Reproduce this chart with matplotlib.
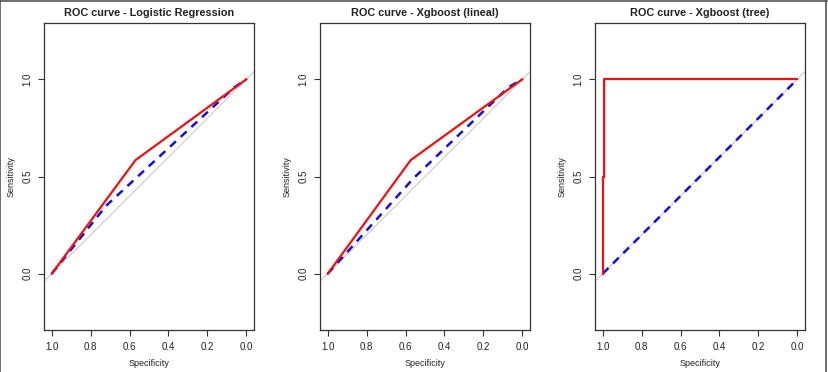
import matplotlib

matplotlib.use("Agg")
import matplotlib.pyplot as plt
from matplotlib.lines import Line2D

plt.rcParams["font.family"] = ["Liberation Sans", "DejaVu Sans"]

TITLES = [
    "ROC curve - Logistic Regression",
    "ROC curve - Xgboost (lineal)",
    "ROC curve - Xgboost (tree)",
]

# red solid curve (specificity, sensitivity)
red_spec = [
    [1.0, 0.57, 0.0],
    [1.0, 0.574, 0.0],
    [1.0, 1.0, 0.993, 0.993, 0.0],
]
red_sens = [
    [0.0, 0.584, 1.0],
    [0.0, 0.584, 1.0],
    [0.0, 0.5, 0.5, 1.0, 1.0],
]

# blue dashed curve
blue_spec = [
    [1.0, 0.72, 0.06, 0.0],
    [1.0, 0.56, 0.07, 0.0],
    [1.0, 0.0],
]
blue_sens = [
    [0.0, 0.35, 0.96, 1.0],
    [0.0, 0.49, 0.96, 1.0],
    [0.0, 1.0],
]

TICKS = [1.0, 0.8, 0.6, 0.4, 0.2, 0.0]
YTICKS = [0.0, 0.5, 1.0]

fig = plt.figure(figsize=(8.29, 3.72), dpi=100)
lefts = [44 / 829, 320 / 829, 595 / 829]
for i, left in enumerate(lefts):
    ax = fig.add_axes([left, 42 / 372, 210 / 829, 307 / 372])
    ax.set_xlim(1.04, -0.04)
    ax.set_ylim(-0.29, 1.29)
    ax.plot([1.5, -0.5], [-0.5, 1.5], color="#d0d0d0", lw=0.9, zorder=1)
    ax.plot(blue_spec[i], blue_sens[i], color="#1010e0", lw=1.8, ls=(0, (3.2, 2.6)), zorder=2)
    ax.plot(red_spec[i], red_sens[i], color="#ee1111", lw=1.6, zorder=3)
    ax.set_xticks(TICKS)
    ax.set_xticklabels([f"{t:.1f}" for t in TICKS])
    ax.set_yticks(YTICKS)
    ax.set_yticklabels([f"{t:.1f}" for t in YTICKS], rotation=90, va="center")
    ax.tick_params(length=4.5, width=0.8, color="#333333", labelsize=7, pad=4,
                   labelcolor="#222222")
    for side in ["top", "right", "bottom", "left"]:
        ax.spines[side].set_color("#333333")
        ax.spines[side].set_linewidth(0.9)
    ax.set_xlabel("Specificity", fontsize=6.5, labelpad=5, color="#222222")
    ax.set_ylabel("Sensitivity", fontsize=6.5, labelpad=5, color="#222222")
    ax.set_title(TITLES[i], fontsize=7.8, fontweight="bold", pad=5, color="#222222")

# outer frame
fig.add_artist(Line2D([0.5 / 829, 0.5 / 829], [0, 1], color="#555555", lw=1.2))
fig.add_artist(Line2D([0, 827 / 829], [1 - 0.5 / 372, 1 - 0.5 / 372], color="#555555", lw=1.2))
fig.add_artist(Line2D([826.5 / 829, 826.5 / 829], [0, 1], color="#555555", lw=1.2))

fig.savefig("out.png", dpi=100)
